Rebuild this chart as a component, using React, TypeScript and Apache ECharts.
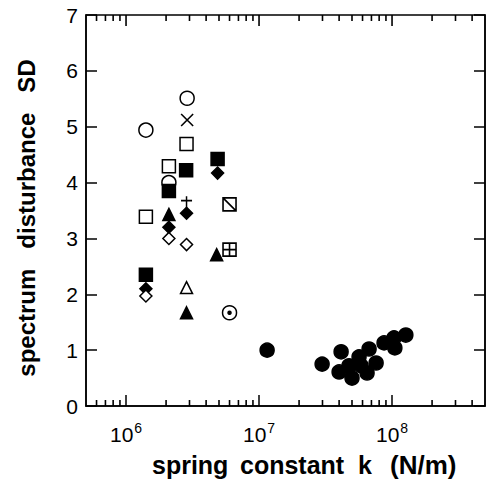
import React, { useEffect, useRef } from "react";
import * as echarts from "echarts";

// ---- data (k in N/m, SD) ----
const openCircle: [number, number][] = [[2.88e6, 5.51], [1.41e6, 4.94], [2.1e6, 4.0], [6.0e6, 1.67]];
const dotInCircle: [number, number][] = [[6.0e6, 1.67]];
const crossX: [number, number][] = [[2.88e6, 5.12]];
const openSquare: [number, number][] = [[2.85e6, 4.69], [2.1e6, 4.29], [1.41e6, 3.39]];
const filledSquare: [number, number][] = [[2.83e6, 4.22], [4.88e6, 4.42], [2.1e6, 3.85], [1.41e6, 2.35]];
const filledDiamond: [number, number][] = [[4.88e6, 4.17], [2.85e6, 3.45], [2.1e6, 3.2], [1.41e6, 2.1]];
const openDiamond: [number, number][] = [[2.1e6, 3.0], [2.85e6, 2.89], [1.41e6, 1.97]];
const filledTriangle: [number, number][] = [[2.1e6, 3.43], [4.8e6, 2.71], [2.85e6, 1.67]];
const openTriangle: [number, number][] = [[2.85e6, 2.12]];
const plusMark: [number, number][] = [[2.85e6, 3.64]];
const slashSquare: [number, number][] = [[6.0e6, 3.61]];
const gridSquare: [number, number][] = [[6.0e6, 2.8]];
const filledCircle: [number, number][] = [
  [1.15e7, 1.0], [2.98e7, 0.75], [4.14e7, 0.97], [4.0e7, 0.61], [5.0e7, 0.5],
  [4.75e7, 0.72], [5.65e7, 0.88], [5.85e7, 0.72], [6.72e7, 1.02], [6.49e7, 0.59],
  [7.59e7, 0.77], [8.71e7, 1.13], [1.035e8, 1.22], [1.05e8, 1.04], [1.27e8, 1.27],
];

const xMin = 5e5;
const xMax = 5e8;
const yMin = 0;
const yMax = 7;
const majorDecades = [1e6, 1e7, 1e8];
const minorMultipliers = [2, 3, 4, 5, 6, 7, 8, 9];
const decadeStarts = [1e5, 1e6, 1e7, 1e8];

const FONT = "Liberation Sans, Arial, sans-serif";

export default function App() {
  const ref = useRef<HTMLDivElement>(null);
  useEffect(() => {
    if (!ref.current) return;
    const chart = echarts.init(ref.current, undefined, { renderer: "svg" });
    const minorVals: number[] = [];
    for (const d of decadeStarts) {
      for (const m of minorMultipliers) {
        const v = m * d;
        if (v > xMin * 1.0001 && v < xMax * 0.9999) minorVals.push(v);
      }
    }
    const MAJ = 11;
    const MIN = 6;
    // [x, y, dy(px)] : vertical tick marks on the bottom and top frame
    const tickData: number[][] = [
      ...minorVals.map((v) => [v, yMin, -MIN]),
      ...majorDecades.map((v) => [v, yMax, MAJ]),
      ...minorVals.map((v) => [v, yMax, MIN]),
    ];
    const blk = { color: "#000", borderColor: "#000", borderWidth: 1.5, opacity: 1 };
    const opn = { color: "#fff", borderColor: "#000", borderWidth: 1.5, opacity: 1 };
    const strokeOnly = { color: "none", borderColor: "#000", borderWidth: 1.6, opacity: 1 };
    const sqStyle = { color: "#fff", borderColor: "#000", borderWidth: 1.6, opacity: 1 };
    const sc = (data: [number, number][], symbol: string, size: any, itemStyle: any) => ({
      type: "scatter",
      data,
      symbol,
      symbolSize: size,
      itemStyle,
    });
    const hiddenSplit = { show: true, lineStyle: { color: "rgba(0,0,0,0)", opacity: 0 } };
    chart.setOption({
      animation: false,
      grid: {
        left: 86,
        right: 3,
        top: 15,
        bottom: 75,
        outerBoundsMode: "none",
        show: true,
        borderColor: "#000",
        borderWidth: 1.5,
        backgroundColor: "rgba(0,0,0,0)",
      },
      graphic: [
        {
          type: "text",
          x: 26,
          y: 218,
          rotation: Math.PI / 2,
          style: {
            text: "spectrum   disturbance   SD",
            font: `bold 24px ${FONT}`,
            fill: "#000",
            align: "center",
            verticalAlign: "middle",
          },
        },
      ],
      xAxis: {
        type: "log",
        min: xMin,
        max: xMax,
        axisLine: { show: true, lineStyle: { color: "#000", width: 1.5 } },
        axisTick: { show: true, inside: true, length: MAJ, lineStyle: { color: "#000", width: 1.5 } },
        splitLine: hiddenSplit,
        axisLabel: {
          show: true,
          margin: 15,
          showMinLabel: false,
          showMaxLabel: false,
          color: "#000",
          formatter: (v: number) => {
            const e = Math.round(Math.log10(v));
            if (Math.abs(v - Math.pow(10, e)) / v > 1e-6) return "";
            return `{b|10}{s|${e}}`;
          },
          rich: {
            b: { fontSize: 21, fontFamily: FONT, color: "#000" },
            s: { fontSize: 14, fontFamily: FONT, color: "#000", padding: [0, 0, 12, 1] },
          },
        },
        name: "{w1|spring}{w2|constant}{w3|k}{w4|(N/m)}",
        nameLocation: "middle",
        nameGap: 46,
        nameTextStyle: {
          padding: [0, 0, 0, 46],
          rich: {
            w1: { width: 88, align: "left", fontSize: 25, fontWeight: "bold", color: "#000", fontFamily: FONT },
            w2: { width: 118, align: "left", fontSize: 25, fontWeight: "bold", color: "#000", fontFamily: FONT },
            w3: { width: 32, align: "left", fontSize: 25, fontWeight: "bold", color: "#000", fontFamily: FONT },
            w4: { width: 75, align: "left", fontSize: 26, fontWeight: "bold", color: "#000", fontFamily: FONT },
          },
        },
      },
      yAxis: [
        {
          type: "value",
          min: yMin,
          max: yMax,
          interval: 1,
          position: "left",
          axisLine: { show: true, lineStyle: { color: "#000", width: 1.5 } },
          axisTick: { show: true, inside: true, length: MAJ, lineStyle: { color: "#000", width: 1.5 } },
          splitLine: hiddenSplit,
          axisLabel: { color: "#000", fontSize: 21, margin: 8, fontFamily: FONT },
        },
        {
          type: "value",
          min: yMin,
          max: yMax,
          interval: 1,
          position: "right",
          axisLine: { show: true, lineStyle: { color: "#000", width: 1.5 } },
          axisTick: { show: true, inside: true, length: MAJ, lineStyle: { color: "#000", width: 1.5 } },
          splitLine: hiddenSplit,
          axisLabel: { show: false },
        },
      ],
      series: [
        {
          type: "custom",
          data: tickData,
          encode: { x: 0, y: 1 },
          renderItem: (_p: any, api: any) => {
            const pt = api.coord([api.value(0), api.value(1)]);
            return {
              type: "line",
              shape: { x1: pt[0], y1: pt[1], x2: pt[0], y2: pt[1] + api.value(2) },
              style: { stroke: "#000", lineWidth: 1.6 },
            };
          },
        },
        sc(openCircle, "circle", 14, opn),
        sc(dotInCircle, "circle", 3, blk),
        sc(crossX, "path://M0 0 L10 10 M10 0 L0 10", 12, strokeOnly),
        sc(openSquare, "rect", 13, opn),
        sc(filledSquare, "rect", 13, blk),
        sc(filledDiamond, "diamond", [12, 12], blk),
        sc(openDiamond, "diamond", [12, 12], opn),
        sc(filledTriangle, "triangle", [12, 12], blk),
        sc(openTriangle, "triangle", [12, 12], opn),
        sc(plusMark, "path://M5 0 L5 12 M0 4 L10 4", [11, 13], strokeOnly),
        sc(slashSquare, "path://M0 0 L10 0 L10 10 L0 10 Z M0 0 L10 10", 13, sqStyle),
        sc(gridSquare, "path://M0 0 L10 0 L10 10 L0 10 Z M5 0 L5 10 M0 5 L10 5", 13, sqStyle),
        sc(filledCircle, "circle", 14, blk),
      ],
    });
    return () => chart.dispose();
  }, []);
  return <div ref={ref} style={{ width: 488, height: 481, position: "absolute", left: 0, top: 0, background: "#fff" }} />;
}
